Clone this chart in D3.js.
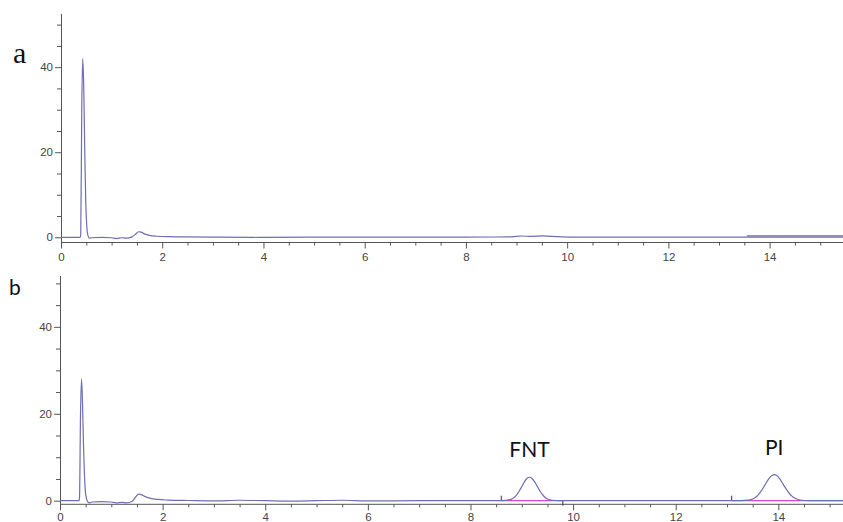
<!DOCTYPE html>
<html><head><meta charset="utf-8">
<script src="https://cdn.jsdelivr.net/npm/d3@7"></script>
<style>
html,body{margin:0;padding:0;background:#fff;}
svg{display:block;}
</style></head>
<body>
<svg id="chart" width="843" height="522"></svg>
<script>
// ---- data (time in min, signal) ----
const traceA = [[0,0],[0.38,0],[0.39,0.6],[0.41,30],[0.43,42],[0.45,35],[0.47,20],[0.49,8],[0.51,2.5],[0.53,0.5],[0.56,-0.2],[0.6,-0.1],[0.8,0],[1.0,-0.1],[1.1,-0.3],[1.2,-0.1],[1.3,-0.2],[1.4,0.1],[1.47,0.7],[1.53,1.3],[1.58,1.2],[1.65,0.8],[1.75,0.45],[1.9,0.25],[2.1,0.15],[2.5,0.1],[3,0.05],[4,0],[6,0.05],[8,0.05],[8.9,0.1],[9.1,0.3],[9.3,0.2],[9.5,0.35],[9.7,0.2],[9.9,0.1],[10.2,0.05],[12,0.05],[13.5,0.05],[15.45,0.05]];
const overlayA = [[13.55,0.35],[15.45,0.35]];

const traceB = [[0,0],[0.37,0],[0.38,0.6],[0.40,20],[0.42,28],[0.44,22],[0.46,12],[0.48,5],[0.50,1.5],[0.53,0],[0.57,-0.5],[0.62,-0.3],[0.8,-0.2],[1.0,-0.3],[1.1,-0.5],[1.2,-0.4],[1.3,-0.5],[1.4,-0.2],[1.47,0.8],[1.53,1.5],[1.58,1.4],[1.65,1.0],[1.75,0.6],[1.9,0.3],[2.1,0.15],[2.5,0.05],[3,-0.05],[3.5,0.1],[4,0],[4.5,-0.1],[5,0],[5.5,0.1],[6,-0.05],[7,0],[8,0],[8.6,0],[8.8,0.36],[8.85,0.73],[8.9,1.35],[8.95,2.22],[9.0,3.28],[9.05,4.33],[9.1,5.1],[9.15,5.4],[9.2,5.1],[9.25,4.35],[9.3,3.35],[9.35,2.3],[9.4,1.45],[9.45,0.8],[9.5,0.4],[9.55,0.2],[9.65,0.05],[9.8,0],[11,0],[13.1,0],[13.42,0.13],[13.47,0.26],[13.52,0.5],[13.57,0.9],[13.62,1.5],[13.67,2.3],[13.72,3.24],[13.77,4.24],[13.82,5.14],[13.87,5.77],[13.92,6.0],[13.97,5.77],[14.02,5.14],[14.07,4.24],[14.12,3.3],[14.17,2.4],[14.22,1.6],[14.27,1.0],[14.32,0.6],[14.37,0.32],[14.42,0.16],[14.5,0.05],[14.7,0],[15.3,0]];
const baselinesB = [[[8.6,0],[9.8,0]],[[13.09,0],[15.3,0]]];
const markersB = [[8.6,"up"],[9.8,"down"],[13.09,"up"]];

const xTicksMajor = [0,2,4,6,8,10,12,14];
const yTicksMajor = [0,20,40];

const peakLabels = [["FNT",9.15,5.4],["PI",13.92,6.0]];
const panelLetters = ["a","b"];

// ---- drawing ----
const svg = d3.select("#chart");
const traceColor = "#6e6eb4";
const axisColor = "#555";

const panels = [
  {trace:traceA, x0:61, y0:14, yZero:237.3, yAxisBottom:242.5, yMax:52.5, xMaxVal:15.45, xAxisY:242.5, labelY:10.5},
  {trace:traceB, x0:60, y0:276, yZero:500.7, yAxisBottom:504.3, yMax:51.7, xMaxVal:15.26, xAxisY:504.3, labelY:8.5}
];

panels.forEach((p,i)=>{
  const x = d3.scaleLinear().domain([0,p.xMaxVal]).range([p.x0,843]);
  const y = d3.scaleLinear().domain([0,p.yMax]).range([p.yZero,p.y0]);
  const g = svg.append("g");

  // y axis
  const yAxis = d3.axisLeft(y).tickValues(d3.range(0,p.yMax,5)).tickSize(4)
      .tickFormat(d=>yTicksMajor.includes(d)?d:"");
  const ya = g.append("g").attr("transform",`translate(${p.x0},0)`).call(yAxis);
  ya.select(".domain").remove();
  ya.selectAll(".tick line").attr("stroke",axisColor)
    .attr("x2",d=>yTicksMajor.includes(d)?-6:-4);
  ya.selectAll(".tick text").attr("x",-8).attr("fill","#444")
    .style("font-family","Liberation Sans, Arial, sans-serif").style("font-size","11.5px");
  g.append("line").attr("x1",p.x0+0.5).attr("x2",p.x0+0.5).attr("y1",p.y0).attr("y2",p.yAxisBottom)
    .attr("stroke",axisColor).attr("stroke-width",1);

  // x axis
  const xAxis = d3.axisBottom(x).tickValues(d3.range(0,p.xMaxVal,0.5)).tickSize(3)
      .tickFormat(d=>xTicksMajor.includes(d)?d:"");
  const xa = g.append("g").attr("transform",`translate(0,${p.xAxisY})`).call(xAxis);
  xa.select(".domain").remove();
  xa.selectAll(".tick line").attr("stroke",axisColor)
    .attr("y2",d=>xTicksMajor.includes(d)?6:3);
  xa.selectAll(".tick text").attr("y",p.labelY).attr("fill","#444")
    .style("font-family","Liberation Sans, Arial, sans-serif").style("font-size","11.5px");
  g.append("line").attr("x1",p.x0).attr("x2",843).attr("y1",p.xAxisY).attr("y2",p.xAxisY)
    .attr("stroke",axisColor).attr("stroke-width",1);

  const line = d3.line().x(d=>x(d[0])).y(d=>y(d[1])).curve(d3.curveMonotoneX);

  if(i===0){
    g.append("path").datum(overlayA).attr("d",line).attr("fill","none")
      .attr("stroke","#707080").attr("stroke-width",1.3);
  } else {
    baselinesB.forEach(b=>{
      g.append("path").datum(b).attr("d",line).attr("fill","none")
        .attr("stroke","#d848c8").attr("stroke-width",1.2);
    });
    markersB.forEach(([t,dir])=>{
      g.append("line").attr("x1",x(t)).attr("x2",x(t))
        .attr("y1",y(0)).attr("y2",dir==="up"?y(0)-5:y(0)+5)
        .attr("stroke","#333").attr("stroke-width",1);
    });
  }

  g.append("path").datum(p.trace).attr("d",line).attr("fill","none")
    .attr("stroke",traceColor).attr("stroke-width",1.2);

  if(i===1){
    peakLabels.forEach(([txt,t,v])=>{
      g.append("text").attr("x",x(t)).attr("y",y(v)-20).attr("text-anchor","middle")
        .style("font-family","Lato, sans-serif").style("font-size","21px").attr("fill","#111")
        .text(txt);
    });
  }
});

svg.append("text").attr("x",13).attr("y",63).text(panelLetters[0])
  .style("font-family","Liberation Serif, Times New Roman, serif").style("font-size","30px").attr("fill","#111");
svg.append("text").attr("x",9).attr("y",295).text(panelLetters[1])
  .style("font-family","Lato, sans-serif").style("font-size","21px").attr("fill","#111");
</script>
</body></html>
